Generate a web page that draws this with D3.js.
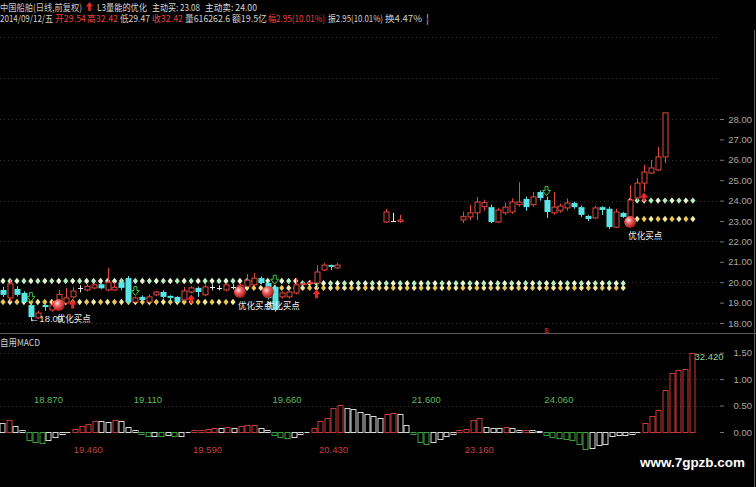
<!DOCTYPE html>
<html><head><meta charset="utf-8">
<script src="https://cdn.jsdelivr.net/npm/d3@7"></script>
<style>
html,body{margin:0;padding:0;background:#000;}
svg{display:block;}
</style></head><body>
<svg id="c" width="756" height="487"></svg>
<script>
// ---------------- DATA ----------------
const candleIndex = [0,1,2,3,4,5,6,7,8,9,10,11,12,13,14,15,16,17,18,19,20,21,22,23,24,25,26,27,28,29,30,31,32,33,34,35,36,37,38,39,40,41,42,43,44,45,46,47,48,55,56,57,66,67,68,69,70,71,72,73,74,75,76,77,78,79,80,81,82,83,84,85,86,87,88,89,90,91,92,93,94,95];
const candleOpen  = [19.62,19.23,19.67,19.47,18.88,18.25,18.88,18.64,19.00,18.98,19.28,19.70,19.62,19.72,19.90,19.62,19.62,20.00,20.20,19.03,19.28,19.03,19.38,19.52,19.33,19.28,19.13,19.52,19.72,19.38,19.77,19.72,19.62,19.78,19.70,19.80,19.87,20.20,19.96,19.77,19.28,19.28,19.47,19.90,19.93,19.96,20.60,20.84,20.70,22.95,23.00,22.98,23.05,23.20,23.40,23.70,23.68,22.95,23.40,23.44,23.80,24.08,23.80,24.42,24.03,23.40,23.50,23.64,23.88,23.68,23.25,23.15,23.68,23.60,22.70,23.40,23.20,24.13,24.86,25.35,25.50,26.14];
const candleHigh  = [19.77,20.11,19.80,19.55,19.00,18.60,18.92,19.10,19.62,19.72,19.77,19.85,19.90,19.95,19.95,20.70,20.00,20.20,20.30,19.30,19.35,19.40,19.58,19.60,19.36,19.32,19.77,19.80,19.78,19.90,19.90,19.85,19.95,19.90,19.95,20.40,20.45,20.28,20.05,19.85,19.55,19.60,20.20,20.05,20.10,20.84,20.95,20.87,20.95,23.60,23.40,23.30,23.46,23.80,24.18,24.05,23.80,23.65,23.90,24.10,24.90,24.20,24.42,24.50,24.20,24.42,23.85,24.10,23.95,23.75,23.30,23.75,23.72,23.70,23.60,23.45,24.75,25.10,25.75,25.99,26.63,28.30];
const candleLow   = [19.28,19.03,19.30,18.98,18.09,18.20,18.60,18.55,18.90,18.90,19.20,19.50,19.55,19.65,19.65,19.55,19.58,19.60,18.95,18.98,19.08,18.98,19.33,19.20,19.10,18.98,19.08,19.45,19.28,19.33,19.60,19.60,19.55,19.65,19.60,19.75,19.80,19.90,19.15,18.55,19.20,19.20,19.40,19.80,19.85,19.70,20.55,20.60,20.65,22.90,22.95,22.90,22.90,23.05,23.05,23.50,22.90,22.90,23.30,23.35,23.70,23.50,23.70,24.00,23.15,23.30,23.40,23.50,23.60,23.20,23.00,23.10,23.30,22.60,22.65,23.15,23.00,24.00,24.45,25.30,25.45,25.84];
const candleClose = [19.38,19.92,19.38,19.03,18.29,18.49,18.78,18.88,19.40,19.23,19.57,19.68,19.80,19.87,19.70,20.00,19.75,19.72,19.03,19.23,19.13,19.28,19.52,19.28,19.23,19.03,19.57,19.72,19.52,19.77,19.75,19.70,19.87,19.76,19.85,20.10,20.20,19.96,19.23,18.64,19.47,19.52,19.87,19.93,19.98,20.50,20.84,20.75,20.84,23.44,22.98,23.05,23.21,23.40,23.93,23.90,22.95,23.54,23.68,23.93,23.93,23.68,24.18,24.13,23.44,23.68,23.73,23.88,23.68,23.30,23.10,23.64,23.54,22.70,23.44,23.20,24.03,24.86,25.40,25.60,26.14,28.30];

// support / resistance levels: [fromIndex, toIndex, price]
const upperLevel = [[0,42,20.06],[43,89,19.95],[90,99,24.00]];
const lowerLevel = [[0,33,19.03],[34,89,19.72],[90,99,23.10]];

// signals
const sellArrowIndex = [4,19,39,78];
const buyArrowIndex  = [10,27,45,92];
const buyPointIndex  = [8,34,38,90];
const buyPointPrice  = [18.88,19.52,19.52,22.95];
const buyPointText   = "优化买点";
const lowMarkIndex = 4, lowMarkText = "←18.09";

// price axis
const priceTicks = [18,19,20,21,22,23,24,25,26,27,28];
const priceGrid  = [18,20,22,24,26,28,30,32];

// MACD histogram
const macd = [0.17,0.22,0.11,0.03,-0.16,-0.19,-0.21,-0.16,-0.09,-0.04,
  -0.01,0.06,0.11,0.16,0.21,0.20,0.19,0.22,0.21,0.09,
  0.03,-0.04,-0.08,-0.07,-0.08,-0.06,-0.08,-0.07,-0.01,0.03,
  0.04,0.06,0.08,0.07,0.09,0.08,0.11,0.13,0.14,0.08,
  0.04,-0.06,-0.09,-0.11,-0.09,-0.04,-0.02,0.08,0.21,0.27,
  0.46,0.51,0.45,0.44,0.38,0.34,0.30,0.27,0.34,0.35,
  0.34,0.13,-0.04,-0.19,-0.22,-0.19,-0.13,-0.08,-0.04,0.03,
  0.06,0.22,0.27,0.09,0.085,0.08,0.09,0.08,0.04,0.045,
  0.03,0.025,-0.06,-0.09,-0.11,-0.13,-0.16,-0.22,-0.32,-0.31,
  -0.25,-0.22,-0.07,-0.06,-0.05,-0.04,-0.01,0.17,0.30,0.41,
  0.80,1.12,1.18,1.19,1.49];
const macdTicks = [0,0.5,1.0,1.5];
const macdGrid = [0.5,1.0,1.5];
const peakLabelIndex = [7,22,43,64,84];
const peakLabelText  = ["18.870","19.110","19.660","21.600","24.060"];
const troughLabelIndex = [13,31,50,72];
const troughLabelText  = ["19.460","19.590","20.430","23.160"];
const lastLabelText = "32.420";

// header
const header1 = [
  {t:"中国船舶(日线,前复权)", x:0, w:82, c:"#c8c8c8"},
  {t:"L3量能的优化", x:97, w:50, c:"#d8d8d8"},
  {t:"主动买: 23.08", x:152, w:48, c:"#d8d8d8"},
  {t:"主动卖: 24.00", x:205, w:52, c:"#d8d8d8"}
];
const header2 = [
  {t:"2014/09/12/五", x:0, w:53, c:"#d0d0d0"},
  {t:"开29.54", x:55, w:31, c:"#e04040"},
  {t:"高32.42", x:87, w:31, c:"#e04040"},
  {t:"低29.47", x:120, w:30, c:"#d0d0d0"},
  {t:"收32.42", x:152, w:31, c:"#e04040"},
  {t:"量616262.6", x:185, w:45, c:"#d0d0d0"},
  {t:"额19.5亿", x:232, w:35, c:"#d0d0d0"},
  {t:"幅2.95(10.01%)", x:268, w:57, c:"#e04040"},
  {t:"振2.95(10.01%)", x:328, w:55, c:"#d0d0d0"},
  {t:"换4.47%", x:385, w:37, c:"#d0d0d0"},
  {t:"¦", x:426, w:3, c:"#d0d0d0"}
];

// ---------------- DRAW ----------------
const svg = d3.select("#c");
const FONT = "'Noto Sans CJK SC','Liberation Sans',sans-serif";
const NUMFONT = "'Liberation Sans','DejaVu Sans',sans-serif";
svg.append("rect").attr("width",756).attr("height",487).attr("fill","#000");

const defs = svg.append("defs");
const grad = defs.append("radialGradient").attr("id","ball").attr("cx","38%").attr("cy","35%").attr("r","65%");
grad.append("stop").attr("offset","0%").attr("stop-color","#ffe0e0");
grad.append("stop").attr("offset","40%").attr("stop-color","#f06060");
grad.append("stop").attr("offset","100%").attr("stop-color","#a01818");

const x = d3.scaleLinear().domain([0,95]).range([3,665]);
const y = d3.scaleLinear().domain([18,28]).range([323,119]);
const mx = d3.scaleLinear().domain([0,macd.length-1]).range([2,691.5]);
const my = d3.scaleLinear().domain([0,1.5]).range([432,352.7]);

// grid lines
svg.append("g").selectAll("line").data(priceGrid).join("line")
  .attr("x1",0).attr("x2",720).attr("y1",d=>Math.round(y(d))+0.5).attr("y2",d=>Math.round(y(d))+0.5)
  .attr("stroke","#333").attr("stroke-dasharray","1,3");
svg.append("g").selectAll("line").data(macdGrid).join("line")
  .attr("x1",0).attr("x2",720).attr("y1",d=>Math.round(my(d))+0.5).attr("y2",d=>Math.round(my(d))+0.5)
  .attr("stroke","#333").attr("stroke-dasharray","1,3");

// panel separator and right border
svg.append("line").attr("x1",0).attr("x2",756).attr("y1",333.5).attr("y2",333.5).attr("stroke","#5a5a5a");
svg.append("line").attr("x1",754.5).attr("x2",754.5).attr("y1",30).attr("y2",487).attr("stroke","#5a5a5a");

// axes
function styleAxis(g){
  g.select(".domain").remove();
  g.selectAll(".tick line").attr("stroke","#777");
  g.selectAll(".tick text").attr("fill","#a8a8a8").attr("font-family",NUMFONT).attr("font-size","9.5px")
    .attr("text-anchor","end").attr("x",32);
}
svg.append("g").attr("transform","translate(720,0)")
  .call(d3.axisRight(y).tickValues(priceTicks).tickSize(4).tickFormat(d3.format(".2f")))
  .call(styleAxis);
svg.append("g").attr("transform","translate(720,0)")
  .call(d3.axisRight(my).tickValues(macdTicks).tickSize(4).tickFormat(d3.format(".2f")))
  .call(styleAxis);

// diamonds (levels)
function diamondPath(cx,cy){ return `M${cx},${cy-3.2}L${cx+2.6},${cy}L${cx},${cy+3.2}L${cx-2.6},${cy}Z`; }
const upperPts = upperLevel.flatMap(([a,b,v])=>d3.range(a,b+1).map(i=>({i,v})));
const lowerPts = lowerLevel.flatMap(([a,b,v])=>d3.range(a,b+1).map(i=>({i,v})));
svg.append("g").selectAll("path").data(lowerPts).join("path")
  .attr("d",d=>diamondPath(x(d.i),y(d.v)))
  .attr("fill",d=>d.i%2? "#f4e7a0":"#e8c850");
svg.append("g").selectAll("path").data(upperPts).join("path")
  .attr("d",d=>diamondPath(x(d.i),y(d.v)))
  .attr("fill",d=>d.i%2? "#b4f0c0":"#eaf8d0");

// candles
const candles = candleIndex.map((idx,k)=>({i:idx,o:candleOpen[k],h:candleHigh[k],l:candleLow[k],c:candleClose[k]}));
const RED="#e04a40", CYAN="#5ae6e6";
const cg = svg.append("g");
candles.forEach(d=>{
  const cx = Math.round(x(d.i))+0.5;
  const top = y(Math.max(d.o,d.c)), bot = y(Math.min(d.o,d.c));
  const up = d.c > d.o, flat = Math.abs(d.c-d.o) < 0.03;
  const col = flat ? "#e8e8e8" : (up ? RED : CYAN);
  cg.append("line").attr("x1",cx).attr("x2",cx).attr("y1",y(d.h)).attr("y2",top).attr("stroke",col);
  cg.append("line").attr("x1",cx).attr("x2",cx).attr("y1",bot).attr("y2",y(d.l)).attr("stroke",col);
  if (flat) {
    cg.append("line").attr("x1",cx-2.5).attr("x2",cx+2.5).attr("y1",Math.round(top)+0.5).attr("y2",Math.round(top)+0.5).attr("stroke",col);
  } else if (up) {
    cg.append("rect").attr("x",cx-2.5).attr("y",top).attr("width",5).attr("height",Math.max(1,bot-top))
      .attr("fill","#000").attr("stroke",col);
  } else {
    cg.append("rect").attr("x",cx-3).attr("y",top).attr("width",6).attr("height",Math.max(1.5,bot-top)).attr("fill",col);
  }
});

// arrows
const byIdx = new Map(candles.map(d=>[d.i,d]));
sellArrowIndex.forEach(i=>{
  const d = byIdx.get(i), cx = x(i), tip = y(d.h)-1;
  const p = `M${cx-1.5},${tip-9}L${cx+1.5},${tip-9}L${cx+1.5},${tip-5}L${cx+4},${tip-5}L${cx},${tip}L${cx-4},${tip-5}L${cx-1.5},${tip-5}Z`;
  svg.append("path").attr("d",p).attr("fill","#000").attr("stroke","#3cc83c").attr("stroke-width",1);
});
buyArrowIndex.forEach(i=>{
  const d = byIdx.get(i), cx = x(i), tip = y(d.l)+1;
  const p = `M${cx},${tip}L${cx+4},${tip+5}L${cx+1.5},${tip+5}L${cx+1.5},${tip+9}L${cx-1.5},${tip+9}L${cx-1.5},${tip+5}L${cx-4},${tip+5}Z`;
  svg.append("path").attr("d",p).attr("fill","#e82828");
});

// buy points
buyPointIndex.forEach((i,k)=>{
  const cx = x(i), cy = y(buyPointPrice[k]);
  svg.append("circle").attr("cx",cx).attr("cy",cy).attr("r",6).attr("fill","url(#ball)");
});
buyPointIndex.forEach((i,k)=>{
  const cx = x(i), cy = y(buyPointPrice[k]);
  svg.append("text").attr("x",cx-2).attr("y",cy+17).text(buyPointText)
    .attr("fill","#f0f0f0").attr("font-family",FONT).attr("font-size","9.5px")
    .attr("textLength",34).attr("lengthAdjust","spacingAndGlyphs");
});
svg.append("text").attr("x",x(lowMarkIndex)-1).attr("y",y(byIdx.get(lowMarkIndex).l)+0.5).text(lowMarkText)
  .attr("fill","#e0e0e0").attr("font-family",NUMFONT).attr("font-size","9.5px");
svg.append("text").attr("x",x(78)).attr("y",333).text("$").attr("text-anchor","middle")
  .attr("fill","#d03030").attr("font-family",NUMFONT).attr("font-size","8px");

// MACD
svg.append("text").attr("x",0).attr("y",346).text("自用MACD").attr("fill","#d0d0d0")
  .attr("font-family",FONT).attr("font-size","9.5px").attr("textLength",40).attr("lengthAdjust","spacingAndGlyphs");
const mg = svg.append("g");
macd.forEach((v,i)=>{
  const prev = i>0 ? macd[i-1] : v;
  let col;
  if (v>=0) col = v>prev ? "#c83a36" : "#d8d8d8";
  else col = v<prev ? "#3aa03a" : "#d8d8d8";
  const cx = Math.round(mx(i));
  const y0 = my(0), y1 = my(v);
  const top = Math.min(y0,y1), h = Math.abs(y1-y0);
  if (h < 1.2) {
    mg.append("line").attr("x1",cx-2.5).attr("x2",cx+2.5).attr("y1",Math.round(y0)+0.5).attr("y2",Math.round(y0)+0.5).attr("stroke",col);
  } else {
    mg.append("rect").attr("x",cx-2.5+0.5).attr("y",Math.round(top)+0.5).attr("width",5).attr("height",Math.round(h))
      .attr("fill","none").attr("stroke",col);
  }
});
svg.append("g").selectAll("text").data(peakLabelIndex).join("text")
  .attr("x",d=>mx(d)).attr("y",my(0)-29).attr("text-anchor","middle").text((d,k)=>peakLabelText[k])
  .attr("fill","#5cb85c").attr("font-family",NUMFONT).attr("font-size","9.5px");
svg.append("g").selectAll("text").data(troughLabelIndex).join("text")
  .attr("x",d=>mx(d)).attr("y",my(0)+21).attr("text-anchor","middle").text((d,k)=>troughLabelText[k])
  .attr("fill","#c04040").attr("font-family",NUMFONT).attr("font-size","9.5px");
svg.append("text").attr("x",mx(macd.length-1)+3).attr("y",my(macd[macd.length-1])+7).text(lastLabelText)
  .attr("fill","#9ad09a").attr("font-family",NUMFONT).attr("font-size","9.5px");

// header
const h1 = svg.append("g");
header1.forEach(s=>h1.append("text").attr("x",s.x).attr("y",11).text(s.t).attr("fill",s.c)
  .attr("font-family",FONT).attr("font-size","9.5px").attr("textLength",s.w).attr("lengthAdjust","spacingAndGlyphs"));
header2.forEach(s=>h1.append("text").attr("x",s.x).attr("y",22).text(s.t).attr("fill",s.c)
  .attr("font-family",FONT).attr("font-size","9.5px").attr("textLength",s.w).attr("lengthAdjust","spacingAndGlyphs"));
// red up arrow icon in header
h1.append("path").attr("d","M89.5,2L93,6.5L90.8,6.5L90.8,11L88.2,11L88.2,6.5L86,6.5Z").attr("fill","#e82828");

// watermark
svg.append("text").attr("x",640).attr("y",467).text("www.7gpzb.com").attr("fill","#ffffff")
  .attr("font-family",NUMFONT).attr("font-weight","bold").attr("font-size","12.5px")
  .attr("textLength",105).attr("lengthAdjust","spacingAndGlyphs");
</script>
</body></html>
